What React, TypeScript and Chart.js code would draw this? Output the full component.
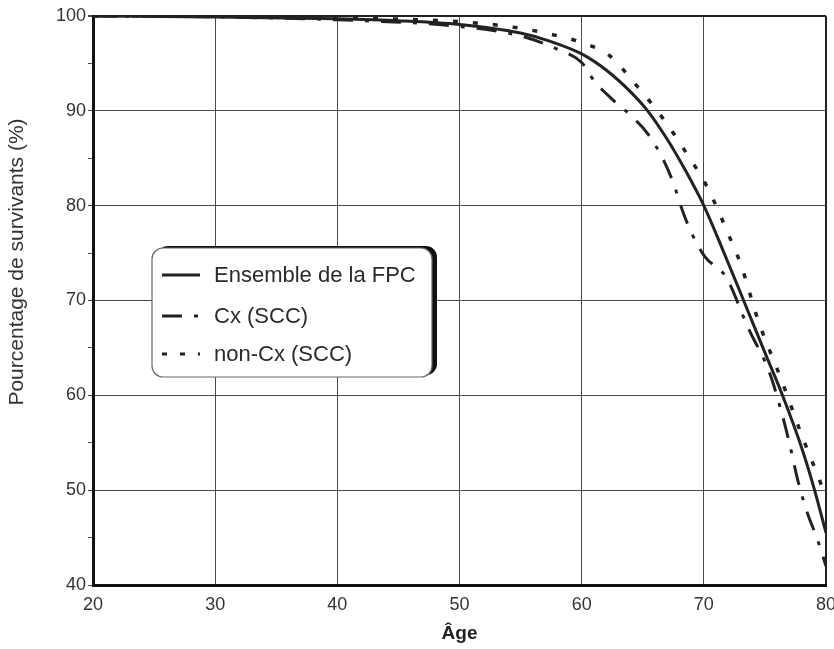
import React, { useEffect, useRef } from "react";
import { Chart, registerables } from "chart.js";

Chart.register(...registerables);

// Data
const agesEnsemble = [20, 30, 40, 45, 50, 55, 57.5, 60, 62, 64, 65.4, 67, 68.5, 70, 71.5, 73.1, 75, 76.5, 78, 79, 80];
const valuesEnsemble = [100, 99.9, 99.7, 99.5, 99.1, 98.2, 97.3, 96, 94.3, 92, 90, 87, 83.7, 80, 75.5, 70.5, 64.5, 59.8, 54.5, 50.3, 45.5];

const agesCx = [20, 30, 40, 50, 55, 58, 60, 61, 62.6, 64.2, 65.4, 66.7, 67.5, 68.3, 69, 70.1, 71.8, 73.6, 75.4, 76.3, 77, 77.7, 78.5, 79.3, 80];
const valuesCx = [100, 99.9, 99.6, 98.9, 97.9, 96.5, 95.1, 93.2, 91.1, 89.3, 87.6, 84.8, 82.4, 79.3, 77.1, 74.6, 72.5, 67.2, 62.3, 58.5, 55, 51, 47.5, 44.8, 42];

const agesNonCx = [20, 30, 40, 50, 55, 59, 60, 62.2, 64.6, 66.6, 68.5, 70.3, 72.3, 73, 74.5, 76.3, 78.1, 79.4, 80];
const valuesNonCx = [100, 100, 99.8, 99.4, 98.7, 97.6, 97.2, 95.9, 92.5, 89.3, 85.7, 81.9, 76.1, 73.9, 67.7, 61.8, 55.5, 51.3, 49.2];

const seriesLabels = ["Ensemble de la FPC", "Cx (SCC)", "non-Cx (SCC)"];
const xTitle = "Âge";
const yTitle = "Pourcentage de survivants (%)";

const LINE = "#222";
const GRID = "#4a4a4a";
const TEXT = "#333";

const toPoints = (xs: number[], ys: number[]) => xs.map((x, i) => ({ x, y: ys[i] }));

const legendPlugin = {
  id: "boxLegend",
  afterDraw(chart: any) {
    const ctx = chart.ctx as CanvasRenderingContext2D;
    // y-axis title
    ctx.save();
    ctx.translate(17, 262);
    ctx.rotate(-Math.PI / 2);
    ctx.fillStyle = TEXT;
    ctx.font = "21px 'Liberation Sans', Arial, sans-serif";
    ctx.textAlign = "center";
    ctx.textBaseline = "middle";
    ctx.fillText(yTitle, 0, 0);
    ctx.restore();

    const x = 152, y = 248, w = 280, h = 129, r = 11;
    ctx.save();
    // shadow
    ctx.fillStyle = "#111";
    ctx.beginPath();
    ctx.roundRect(x + 5, y - 2, w, h, r);
    ctx.fill();
    // box
    ctx.fillStyle = "#fff";
    ctx.strokeStyle = "#666";
    ctx.lineWidth = 1.2;
    ctx.beginPath();
    ctx.roundRect(x, y, w, h, r);
    ctx.fill();
    ctx.stroke();

    const rows = [275, 316, 354];
    const dashes = [[], [20, 12, 4, 12], [5, 13]];
    chart.data.datasets.forEach((ds: any, i: number) => {
      ctx.strokeStyle = LINE;
      ctx.lineWidth = 3;
      ctx.setLineDash(dashes[i]);
      ctx.beginPath();
      ctx.moveTo(162, rows[i]);
      ctx.lineTo(200, rows[i]);
      ctx.stroke();
      ctx.setLineDash([]);
      ctx.fillStyle = "#2a2a2a";
      ctx.font = "22px 'Liberation Sans', Arial, sans-serif";
      ctx.textBaseline = "middle";
      ctx.textAlign = "left";
      ctx.fillText(ds.label, 214, rows[i] + 1);
    });
    ctx.restore();
  },
};

export default function App() {
  const ref = useRef<HTMLCanvasElement>(null);

  useEffect(() => {
    if (!ref.current) return;
    const chart = new Chart(ref.current, {
      type: "line",
      data: {
        datasets: [
          {
            label: seriesLabels[0],
            data: toPoints(agesEnsemble, valuesEnsemble),
            borderColor: LINE,
            borderWidth: 3,
            pointRadius: 0,
            cubicInterpolationMode: "monotone",
          },
          {
            label: seriesLabels[1],
            data: toPoints(agesCx, valuesCx),
            borderColor: LINE,
            borderWidth: 3,
            borderDash: [20, 12, 4, 12],
            pointRadius: 0,
            cubicInterpolationMode: "monotone",
          },
          {
            label: seriesLabels[2],
            data: toPoints(agesNonCx, valuesNonCx),
            borderColor: LINE,
            borderWidth: 3.5,
            borderDash: [5, 15],
            pointRadius: 0,
            cubicInterpolationMode: "monotone",
          },
        ],
      },
      options: {
        animation: false,
        responsive: false,
        maintainAspectRatio: false,
        layout: { padding: { top: 16, right: 8, left: 0, bottom: 0 } },
        plugins: {
          legend: { display: false },
          tooltip: { enabled: false },
        },
        scales: {
          x: {
            type: "linear",
            min: 20,
            max: 80,
            ticks: {
              stepSize: 10,
              color: TEXT,
              padding: 9,
              font: { family: "'Liberation Sans', Arial, sans-serif", size: 18 },
            },
            grid: {
              color: (c: any) => (c.tick && c.tick.value === 80 ? "#222" : GRID),
              lineWidth: (c: any) => (c.tick && c.tick.value === 80 ? 2 : 1),
              drawTicks: false,
              tickLength: 0,
            },
            border: { display: true, color: "#111", width: 3 },
            title: {
              display: true,
              text: xTitle,
              color: "#222",
              padding: { top: 0, bottom: 4 },
              font: { family: "'Liberation Sans Narrow', 'Liberation Sans', Arial, sans-serif", size: 19, weight: "bold" },
            },
            afterFit(scale: any) {
              scale.height = 64;
              scale.paddingLeft = 0;
              scale.paddingRight = 0;
            },
          },
          y: {
            type: "linear",
            min: 40,
            max: 100,
            ticks: {
              stepSize: 5,
              color: TEXT,
              padding: 2,
              font: { family: "'Liberation Sans', Arial, sans-serif", size: 18 },
              callback: (v: any) => (Number(v) % 10 === 0 ? String(v) : ""),
            },
            grid: {
              color: (c: any) =>
                c.tick && c.tick.value % 10 === 0 ? (c.tick.value === 100 ? "#222" : GRID) : "rgba(0,0,0,0)",
              lineWidth: (c: any) => (c.tick && c.tick.value === 100 ? 2 : 1),
              tickColor: GRID,
              drawTicks: true,
              tickLength: 5,
            },
            border: { display: true, color: "#111", width: 3 },
            title: { display: false, text: yTitle },
            afterFit(scale: any) {
              scale.width = 93;
            },
          },
        },
      },
      plugins: [legendPlugin],
    });
    return () => chart.destroy();
  }, []);

  return (
    <div style={{ position: "fixed", left: 0, top: 0, width: 834, height: 649, background: "#fff" }}>
      <canvas ref={ref} width={834} height={649} style={{ width: 834, height: 649, display: "block" }} />
    </div>
  );
}
